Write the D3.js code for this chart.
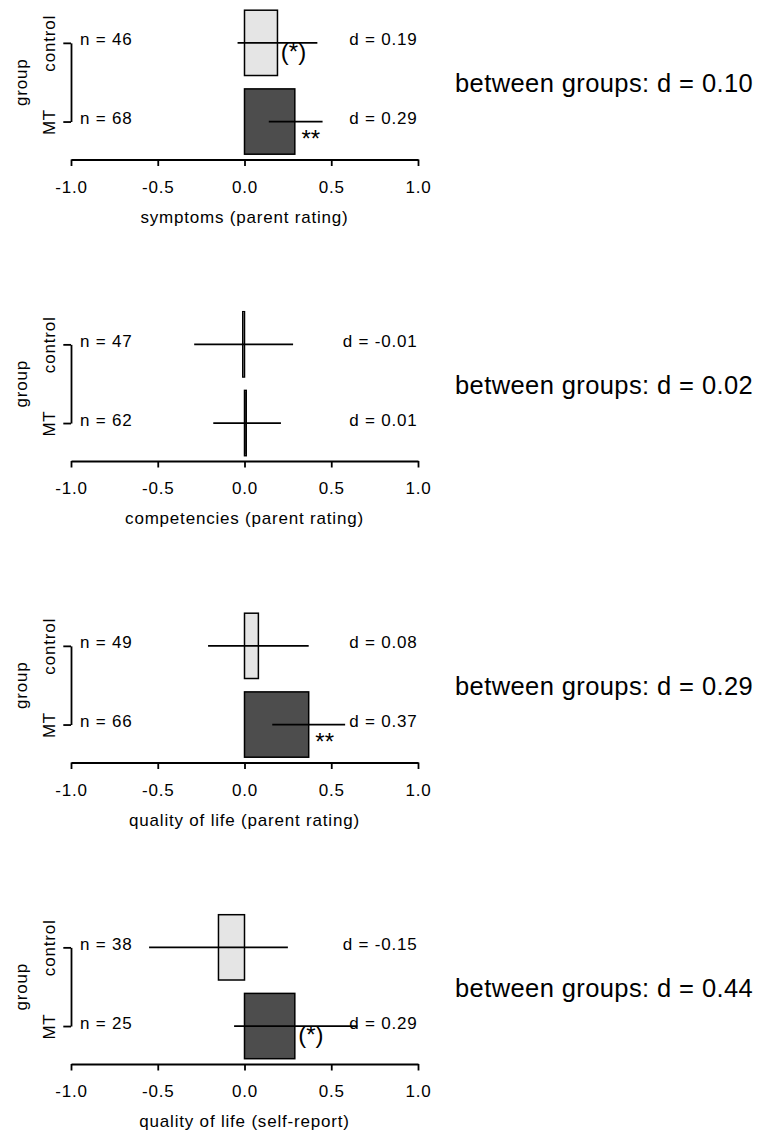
<!DOCTYPE html>
<html>
<head>
<meta charset="utf-8">
<script src="https://cdn.jsdelivr.net/npm/d3@7"></script>
<style>
  html, body { margin: 0; padding: 0; background: #fff; }
  svg { display: block; }
  text { font-family: "Liberation Sans", Arial, Helvetica, sans-serif; fill: #000; }
</style>
</head>
<body>
<script>
// Effect sizes (Cohen's d) with confidence limits, per outcome and group
const outcomes = [
  "symptoms (parent rating)",
  "competencies (parent rating)",
  "quality of life (parent rating)",
  "quality of life (self-report)"
];
const groups = ["control", "MT"];

const controlD  = [0.19, -0.01, 0.08, -0.15];
const controlLo = [-0.04, -0.29, -0.21, -0.55];
const controlHi = [0.42, 0.28, 0.37, 0.25];
const controlN  = [46, 47, 49, 38];
const controlSig = ["(*)", "", "", ""];

const mtD  = [0.29, 0.01, 0.37, 0.29];
const mtLo = [0.14, -0.18, 0.16, -0.06];
const mtHi = [0.45, 0.21, 0.58, 0.65];
const mtN  = [68, 62, 66, 25];
const mtSig = ["**", "", "**", "(*)"];

const betweenD = [0.10, 0.02, 0.29, 0.44];

const xTicks = [-1.0, -0.5, 0.0, 0.5, 1.0];

const W = 759, H = 1135;
const fills = { control: "#e5e5e5", MT: "#4d4d4d" };
const smallFont = 17, smallSpacing = "0.8px";
const fontStack = "\"Liberation Sans\", Arial, Helvetica, sans-serif";

const locale = d3.formatLocale({ decimal: ".", thousands: ",", grouping: [3], currency: ["", ""], minus: "-" });
const fmt2 = locale.format(".2f");
const fmt1 = locale.format(".1f");

const svg = d3.select("body").append("svg")
  .attr("width", W).attr("height", H)
  .attr("viewBox", `0 0 ${W} ${H}`);
svg.append("rect").attr("width", W).attr("height", H).attr("fill", "#fff");

const x = d3.scaleLinear().domain([-1, 1]).range([71, 418]);
const axisX = 71;

outcomes.forEach((title, i) => {
  const axisY = 159.5 + i * 301.5;
  const g = svg.append("g");

  const y = d3.scaleBand().domain(groups)
    .range([axisY - 149.3, axisY - 5.3])
    .paddingInner(0.17).paddingOuter(0);
  const yc = k => y(k) + y.bandwidth() / 2;

  const rows = [
    { grp: "control", d: controlD[i], lo: controlLo[i], hi: controlHi[i], n: controlN[i], sig: controlSig[i] },
    { grp: "MT",      d: mtD[i],      lo: mtLo[i],      hi: mtHi[i],      n: mtN[i],      sig: mtSig[i] }
  ];

  // bars from zero to d
  g.selectAll("rect.bar").data(rows).join("rect")
    .attr("class", "bar")
    .attr("x", r => Math.min(x(0), x(r.d)))
    .attr("width", r => Math.abs(x(r.d) - x(0)))
    .attr("y", r => y(r.grp))
    .attr("height", y.bandwidth())
    .attr("fill", r => fills[r.grp])
    .attr("stroke", "#000")
    .attr("stroke-width", 1.5);

  // confidence intervals
  g.selectAll("line.ci").data(rows).join("line")
    .attr("class", "ci")
    .attr("x1", r => x(r.lo)).attr("x2", r => x(r.hi))
    .attr("y1", r => yc(r.grp)).attr("y2", r => yc(r.grp))
    .attr("stroke", "#000").attr("stroke-width", 1.8);

  // significance markers, ink-centred just below each interval line
  const sigSize = 24;
  g.selectAll("text.sig").data(rows.filter(r => r.sig)).join("text")
    .attr("class", "sig")
    .attr("x", r => x(r.d) + 16)
    .attr("y", r => yc(r.grp) + 11 + (r.sig.includes("(") ? 0.26 : 0.59) * sigSize)
    .attr("text-anchor", "middle")
    .attr("font-size", sigSize)
    .text(r => r.sig);

  // sample sizes
  g.selectAll("text.n").data(rows).join("text")
    .attr("class", "n")
    .attr("x", 80)
    .attr("y", r => yc(r.grp) + 2.5)
    .attr("font-size", smallFont).attr("letter-spacing", smallSpacing)
    .text(r => `n = ${r.n}`);

  // within-group effect sizes
  g.selectAll("text.d").data(rows).join("text")
    .attr("class", "d")
    .attr("x", 417.5)
    .attr("y", r => yc(r.grp) + 2.5)
    .attr("text-anchor", "end")
    .attr("font-size", smallFont).attr("letter-spacing", smallSpacing)
    .text(r => `d = ${fmt2(r.d)}`);

  // x axis
  const xa = g.append("g")
    .attr("transform", `translate(0,${axisY})`)
    .call(d3.axisBottom(x).tickValues(xTicks).tickFormat(fmt1)
      .tickSize(6.5).tickSizeOuter(0).tickPadding(14.5));
  xa.selectAll("path, line").attr("stroke", "#000").attr("stroke-width", 1.8);
  xa.selectAll("text")
    .attr("font-size", smallFont).attr("letter-spacing", smallSpacing)
    .style("font-family", fontStack)
    .attr("fill", "#000");

  g.append("text")
    .attr("x", x(0)).attr("y", axisY + 63)
    .attr("text-anchor", "middle")
    .attr("font-size", smallFont).attr("letter-spacing", smallSpacing)
    .text(title);

  // group axis (bracket between the two group centres)
  const yp = d3.scalePoint().domain(groups).range([yc("control"), yc("MT")]);
  const ya = g.append("g")
    .attr("transform", `translate(${axisX},0)`)
    .call(d3.axisLeft(yp).tickSize(7.7).tickSizeOuter(0));
  ya.selectAll("path, line").attr("stroke", "#000").attr("stroke-width", 1.8);
  ya.selectAll("text")
    .attr("transform", "rotate(-90)")
    .attr("x", 0).attr("y", -16).attr("dy", null)
    .attr("text-anchor", "middle")
    .attr("font-size", smallFont).attr("letter-spacing", smallSpacing)
    .style("font-family", fontStack)
    .attr("fill", "#000");

  const mid = (yc("control") + yc("MT")) / 2;
  g.append("text")
    .attr("transform", `translate(27,${mid}) rotate(-90)`)
    .attr("text-anchor", "middle")
    .attr("font-size", smallFont).attr("letter-spacing", smallSpacing)
    .text("group");

  // between-group effect size
  g.append("text")
    .attr("x", 455).attr("y", mid + 10)
    .attr("font-size", 25.5).attr("letter-spacing", "0.4px")
    .text(`between groups: d = ${fmt2(betweenD[i])}`);
});
</script>
</body>
</html>
